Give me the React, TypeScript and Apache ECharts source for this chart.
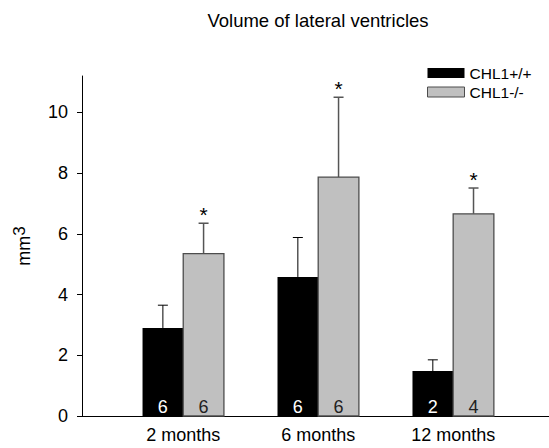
import React, { useEffect, useRef } from "react";
import * as echarts from "echarts";

// Lateral ventricle volume (mm³) by age, per genotype
const categories = ["2 months", "6 months", "12 months"];
const categoryPositions = [1, 2, 3];
const seriesNames = ["CHL1+/+", "CHL1-/-"];

const wildMeans = [2.9, 4.58, 1.48];
const wildErrors = [0.75, 1.3, 0.37];
const wildCounts = [6, 6, 2];

const knockoutMeans = [5.35, 7.87, 6.66];
const knockoutErrors = [1.0, 2.63, 0.85];
const knockoutCounts = [6, 6, 4];
const knockoutSignificant = [1, 1, 1];
const wildSignificant = [0, 0, 0];

const yMax = 11.2;
const yTicks = [0, 2, 4, 6, 8, 10];

const FONT = "Liberation Sans, Arial, Helvetica, sans-serif";

function buildRows(means: number[], errors: number[], counts: number[], sig: number[]) {
  return categoryPositions.map((pos, i) => [pos, means[i], errors[i], counts[i], sig[i]]);
}

function makeRenderer(
  side: number,
  fill: string,
  stroke: string,
  errColor: string,
  errWidth: number,
  countColor: string
) {
  return (params: any, api: any) => {
    const x = api.value(0);
    const mean = api.value(1);
    const err = api.value(2);
    const n = api.value(3);
    const sig = api.value(4);
    const base = api.coord([x, 0]);
    const top = api.coord([x, mean]);
    const errTop = api.coord([x, mean + err]);
    const w = api.size([0.3015, 0])[0];
    const left = side < 0 ? base[0] - w : base[0];
    const cx = left + w / 2;
    const cap = 5;
    const children: any[] = [
      {
        type: "line",
        shape: { x1: cx, y1: top[1], x2: cx, y2: errTop[1] },
        style: { stroke: errColor, lineWidth: errWidth },
      },
      {
        type: "line",
        shape: { x1: cx - cap, y1: errTop[1], x2: cx + cap, y2: errTop[1] },
        style: { stroke: errColor, lineWidth: errWidth },
      },
      {
        type: "rect",
        shape: { x: left, y: top[1], width: w, height: base[1] - top[1] },
        style: { fill, stroke, lineWidth: stroke === "none" ? 0 : 1.3 },
      },
      {
        type: "text",
        style: {
          text: String(n),
          x: cx,
          y: base[1] - 9,
          align: "center",
          verticalAlign: "middle",
          fill: countColor,
          font: `18px ${FONT}`,
        },
      },
    ];
    if (sig) {
      children.push({
        type: "text",
        style: {
          text: "*",
          x: cx,
          y: errTop[1] - 9,
          align: "center",
          verticalAlign: "middle",
          fill: "#000",
          font: `21px ${FONT}`,
        },
      });
    }
    return { type: "group", children };
  };
}

export default function App() {
  const ref = useRef<HTMLDivElement>(null);

  useEffect(() => {
    if (!ref.current) return;
    const chart = echarts.init(ref.current, undefined, { renderer: "svg" });
    chart.setOption({
      animation: false,
      backgroundColor: "#ffffff",
      textStyle: { fontFamily: FONT },
      graphic: [
        {
          type: "text",
          style: {
            text: "Volume of lateral ventricles",
            x: 318,
            y: 20,
            align: "center",
            verticalAlign: "middle",
            fill: "#000",
            font: `18.5px ${FONT}`,
          },
        },
      ],
      legend: {
        orient: "vertical",
        left: 422,
        top: 60,
        itemWidth: 37,
        itemHeight: 10,
        itemGap: 3,
        icon: "rect",
        textStyle: { fontSize: 15.5, color: "#000", fontFamily: FONT },
        data: [
          { name: seriesNames[0], itemStyle: { color: "#000000" } },
          {
            name: seriesNames[1],
            itemStyle: { color: "#c0c0c0", borderColor: "#4d4d4d", borderWidth: 1 },
          },
        ],
      },
      grid: { left: 82, right: 0, top: 76, bottom: 32, containLabel: false },
      xAxis: {
        type: "value",
        min: 0.25,
        max: 3.71,
        splitLine: { show: false },
        axisTick: { show: false },
        axisLine: { show: true, lineStyle: { color: "#000", width: 1 } },
        axisLabel: {
          customValues: categoryPositions,
          formatter: (v: number) => categories[categoryPositions.indexOf(Math.round(v))] ?? "",
          fontSize: 18,
          lineHeight: 18,
          color: "#000",
          margin: 10,
          fontFamily: FONT,
        },
      },
      yAxis: {
        type: "value",
        min: 0,
        max: yMax,
        name: "{a|mm}{b|3}",
        nameLocation: "middle",
        nameGap: 45,
        nameTextStyle: {
          color: "#000",
          rich: {
            a: { fontSize: 18, lineHeight: 26, fontFamily: FONT, color: "#000", verticalAlign: "middle" },
            b: { fontSize: 17, lineHeight: 15, fontFamily: FONT, color: "#000", verticalAlign: "top" },
          },
        },
        splitLine: { show: false },
        axisLine: { show: true, lineStyle: { color: "#000", width: 1 } },
        axisTick: {
          show: true,
          inside: false,
          length: 5,
          customValues: yTicks,
          lineStyle: { color: "#000" },
        },
        axisLabel: {
          customValues: yTicks,
          fontSize: 18,
          color: "#000",
          margin: 14,
          fontFamily: FONT,
        },
      },
      series: [
        {
          name: seriesNames[0],
          type: "custom",
          itemStyle: { color: "#000000" },
          renderItem: makeRenderer(-1, "#000000", "none", "#000000", 1, "#ffffff"),
          data: buildRows(wildMeans, wildErrors, wildCounts, wildSignificant),
        },
        {
          name: seriesNames[1],
          type: "custom",
          itemStyle: { color: "#c0c0c0", borderColor: "#4d4d4d", borderWidth: 1 },
          renderItem: makeRenderer(1, "#c0c0c0", "#4d4d4d", "#555555", 1.5, "#222222"),
          data: buildRows(knockoutMeans, knockoutErrors, knockoutCounts, knockoutSignificant),
        },
      ],
    });
    return () => chart.dispose();
  }, []);

  return (
    <div
      ref={ref}
      style={{ position: "fixed", left: 0, top: 0, width: 549, height: 448 }}
    />
  );
}
